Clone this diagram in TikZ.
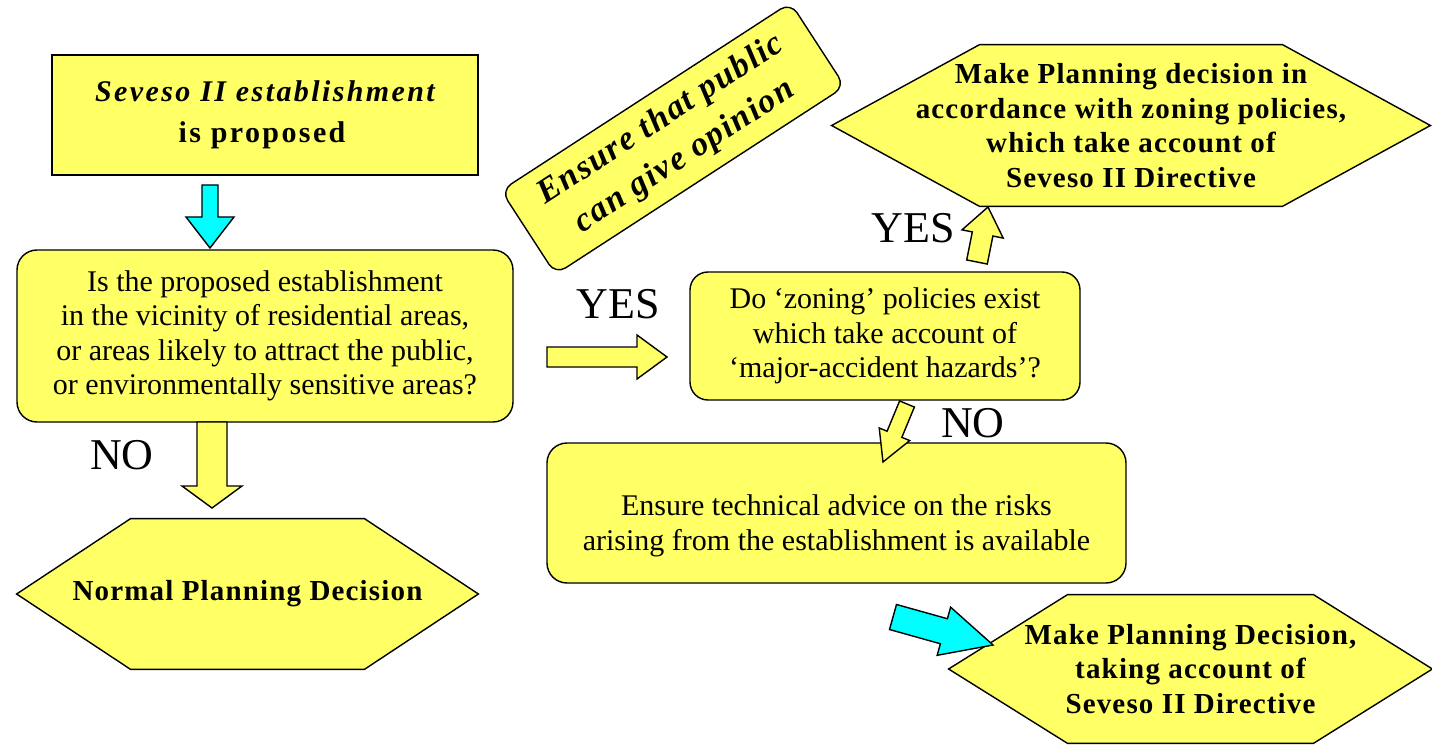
\documentclass[tikz,border=0pt]{standalone}
\usepackage{fontspec}
\setmainfont{Liberation Serif}
\usetikzlibrary{calc,backgrounds}
\definecolor{boxyellow}{RGB}{255,255,102}
\definecolor{arrowcyan}{RGB}{0,255,255}
% block arrow: from, to, shaft half width, head half width, head length, fill
\newcommand{\blockarrow}[6]{%
  \coordinate (ba-h) at ($(#2)!#5!(#1)$);
  \filldraw[arrowline, fill=#6]
    ($(#1)!#3!90:(#2)$) -- ($(ba-h)!#3!90:(#2)$) -- ($(ba-h)!#4!90:(#2)$) -- (#2)
    -- ($(ba-h)!#4!-90:(#2)$) -- ($(ba-h)!#3!-90:(#2)$) -- ($(#1)!#3!-90:(#2)$) -- cycle;
}
% hexagon around a named node: name, inset
\newcommand{\hexaround}[2]{%
  \begin{scope}[on background layer]
  \filldraw[hexline] (#1.west) -- ([xshift=#2]#1.north west) -- ([xshift=-#2]#1.north east)
    -- (#1.east) -- ([xshift=-#2]#1.south east) -- ([xshift=#2]#1.south west) -- cycle;
  \end{scope}
}
\begin{document}
\begin{tikzpicture}[x=0.5pt,y=-0.5pt,
  box/.style={draw=black, line width=0.7pt, fill=boxyellow, align=center, inner sep=0pt},
  plaintext/.style={font=\fontsize{15}{17.2}\selectfont, align=center, inner sep=0pt},
  boldhex/.style={font=\fontsize{14.5}{17.2}\selectfont\bfseries\addfontfeature{LetterSpace=4}, align=center, inner sep=0pt},
  hexline/.style={draw=black, line width=0.7pt, fill=boxyellow, line join=miter},
  arrowline/.style={draw=black, line width=0.7pt, line join=miter},
  lbl/.style={font=\fontsize{22}{24}\selectfont, inner sep=0pt}]
\useasboundingbox (0,0) rectangle (1432,749);

% start box
\node[box, minimum width=213pt, minimum height=60pt,
      font=\fontsize{15}{20.5}\selectfont\bfseries\addfontfeature{LetterSpace=8}] (propose) at (265,115)
  {{\itshape Seveso II establishment}\\is proposed\hspace*{3pt}};

% question box
\node[box, rounded corners=10pt, minimum width=248pt, minimum height=86pt, plaintext] (question) at (265,336)
  {Is the proposed establishment\\in the vicinity of residential areas,\\or areas likely to attract the public,\\or environmentally sensitive areas?};

% normal decision hexagon
\node[boldhex, minimum width=230.5pt, minimum height=75pt] (normal) at (247.5,594) {Normal Planning Decision};
\hexaround{normal}{57pt}

% public opinion box
\node[box, rounded corners=6pt, rotate=33, minimum width=172.5pt, minimum height=50pt,
      font=\fontsize{17}{22}\selectfont\bfseries\itshape\addfontfeature{LetterSpace=5}] (public) at (673,138.5)
  {Ensure that public\\can give opinion};

% zoning policy hexagon
\node[boldhex, minimum width=299pt, minimum height=80.5pt] (zoningdecision) at (1131,125.5)
  {Make Planning decision in\\accordance with zoning policies,\\which take account of\\Seveso II Directive};
\hexaround{zoningdecision}{74pt}

% zoning question box
\node[box, rounded corners=9pt, minimum width=195pt, minimum height=64pt, plaintext] (zoning) at (885,336)
  {Do ‘zoning’ policies exist\\which take account of\\‘major-accident hazards’?};

% technical advice box
\node[box, rounded corners=10pt, minimum width=289.5pt, minimum height=70pt] (advice) at (836.5,513) {};
\node[plaintext] (advicetext) at ($(advice.center)+(0,13)$)
  {Ensure technical advice on the risks\\arising from the establishment is available};

% final decision hexagon
\node[boldhex, minimum width=241.5pt, minimum height=74pt] (finaldecision) at (1190.5,669)
  {Make Planning Decision,\\taking account of\\Seveso II Directive};
\hexaround{finaldecision}{59.5pt}

% labels
\node[lbl] (nolabelA) at (122,455) {NO};
\node[lbl] (yeslabelA) at (618,304) {YES};
\node[lbl] (yeslabelB) at (913,228) {YES};
\node[lbl] (nolabelB) at (973,423) {NO};

% arrow end points
\coordinate (a1s) at (210,185);  \coordinate (a1e) at (210,248);
\coordinate (a2s) at (212,422);  \coordinate (a2e) at (212,508);
\coordinate (a3s) at (547,357);  \coordinate (a3e) at (667,357);
\coordinate (a4s) at (977,262);  \coordinate (a4e) at (988,207);
\coordinate (a5s) at (907,404);  \coordinate (a5e) at (883,462);
\coordinate (a6s) at (893,617);  \coordinate (a6e) at (993,645);

\blockarrow{a1s}{a1e}{4pt}{12pt}{15.5pt}{arrowcyan}
\blockarrow{a2s}{a2e}{7.5pt}{15pt}{11pt}{boxyellow}
\blockarrow{a3s}{a3e}{5pt}{11pt}{15pt}{boxyellow}
\blockarrow{a4s}{a4e}{5.25pt}{10.5pt}{13.75pt}{boxyellow}
\blockarrow{a5s}{a5e}{4pt}{8.25pt}{15pt}{boxyellow}
\blockarrow{a6s}{a6e}{6.5pt}{12.5pt}{25.5pt}{arrowcyan}
\end{tikzpicture}
\end{document}
